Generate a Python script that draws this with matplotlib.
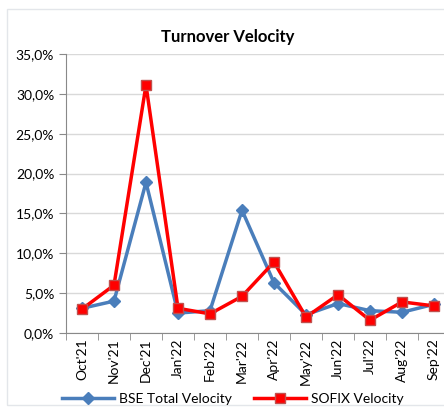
import matplotlib.pyplot as plt
from matplotlib.patches import Rectangle
from matplotlib.ticker import FuncFormatter, FixedLocator
import numpy as np

months = ["Oct'21", "Nov'21", "Dec'21", "Jan'22", "Feb'22", "Mar'22",
          "Apr'22", "May'22", "Jun'22", "Jul'22", "Aug'22", "Sep'22"]
bse = [3.1, 4.0, 18.9, 2.5, 2.8, 15.4, 6.3, 2.3, 3.7, 2.8, 2.6, 3.6]
sofix = [3.0, 6.0, 31.1, 3.1, 2.4, 4.6, 8.9, 2.0, 4.8, 1.6, 3.9, 3.4]

plt.rcParams['font.family'] = ['Lato', 'DejaVu Sans']

fig = plt.figure(figsize=(4.44, 4.11), dpi=100)
fig.patches.append(Rectangle((7 / 444, 1 - 405 / 411), 1, 396 / 411,
                             transform=fig.transFigure, fill=False,
                             edgecolor='#e3e6ea', linewidth=1))
ax = fig.add_axes([66 / 444, 1 - 333 / 411, 384 / 444, 279 / 411])

x = np.arange(len(months))
ax.plot(x, bse, color='#4a7ebb', linewidth=2.5, marker='D', markersize=6,
        markerfacecolor='#4a7ebb', markeredgecolor='#4a7ebb',
        label='BSE Total Velocity')
ax.plot(x, sofix, color='#ff0000', linewidth=2.5, marker='s', markersize=7,
        markerfacecolor='#ff0000', markeredgecolor='#c0504d',
        label='SOFIX Velocity')

ax.set_xlim(-0.5, len(months) - 0.5)
ax.set_ylim(0, 35)
ax.set_yticks(np.arange(0, 36, 5))
ax.yaxis.set_major_formatter(FuncFormatter(lambda v, p: ('%.1f%%' % v).replace('.', ',')))
ax.set_xticks(x)
ax.set_xticklabels(months, rotation=90)
ax.xaxis.set_minor_locator(FixedLocator(np.arange(-0.5, len(months), 1)))
ax.tick_params(axis='x', which='major', length=0, labelsize=10, pad=4)
ax.tick_params(axis='x', which='minor', length=5, color='#898989')
ax.tick_params(axis='y', length=5, color='#898989', labelsize=10)

ax.grid(axis='y', color='#d9d9d9', linewidth=1)
ax.set_axisbelow(True)
for s in ['top', 'right']:
    ax.spines[s].set_visible(False)
ax.spines['left'].set_color('#898989')
ax.spines['bottom'].set_color('#898989')

fig.text(228 / 444, 1 - 37 / 411, 'Turnover Velocity', ha='center', va='center',
         fontsize=12, fontweight='bold')
fig.legend(loc='center', bbox_to_anchor=(233 / 444, 1 - 399 / 411), ncol=2,
           frameon=False, fontsize=10, handlelength=3.7, columnspacing=1.6,
           handletextpad=0.4, borderaxespad=0)

fig.savefig('out.png', dpi=100)
